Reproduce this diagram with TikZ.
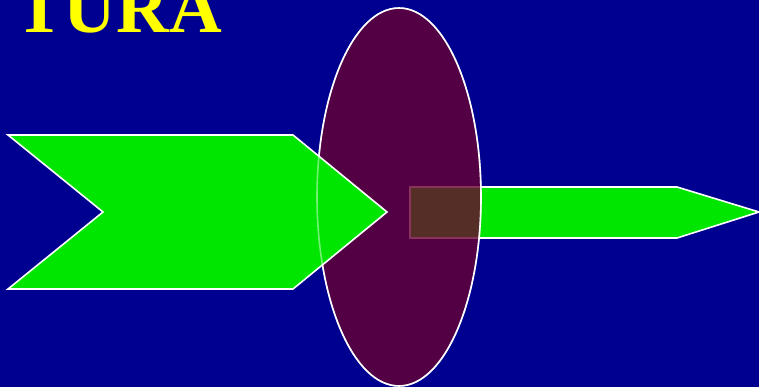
\documentclass[tikz,border=0pt]{standalone}
\usepackage{fontspec}
\setmainfont{Liberation Serif}
\usepackage{xcolor}
\usetikzlibrary{positioning}

\definecolor{bgblue}{RGB}{0,0,144}
\definecolor{arrowgreen}{RGB}{0,230,0}
\definecolor{lensred}{RGB}{106,0,49}
\definecolor{titleyellow}{RGB}{255,255,0}

\begin{document}
\begin{tikzpicture}[
  x=1pt, y=-1pt,
  outline/.style={draw=white, line width=1.6pt, line join=miter},
  greenpart/.style={outline, fill=arrowgreen},
  lens/.style={draw=white, line width=1.6pt, fill=lensred, fill opacity=0.8},
  title/.style={text=titleyellow, font=\fontsize{73}{73}\selectfont\bfseries, inner sep=0pt},
]

% background
\fill[bgblue] (0,0) rectangle (759,387);
\useasboundingbox (0,0) rectangle (759,387);
\clip (0,0) rectangle (759,387);

\node[title, anchor=base west] (head) at (15,33) {TURA};

% shaft behind the lens
\draw[greenpart] (410,187) -- (677,187) -- (759,212) -- (677,238) -- (410,238) -- cycle;

% lens
\draw[lens] (399,197) ellipse [x radius=82, y radius=189];

% chevron in front
\draw[greenpart] (8,135) -- (293,135) -- (387,212) -- (293,289) -- (8,289) -- (103,212) -- cycle;

% lens rim showing through
\draw[white, line width=1.6pt, draw opacity=0.45] (399,197) ellipse [x radius=82, y radius=189];

\end{tikzpicture}
\end{document}
